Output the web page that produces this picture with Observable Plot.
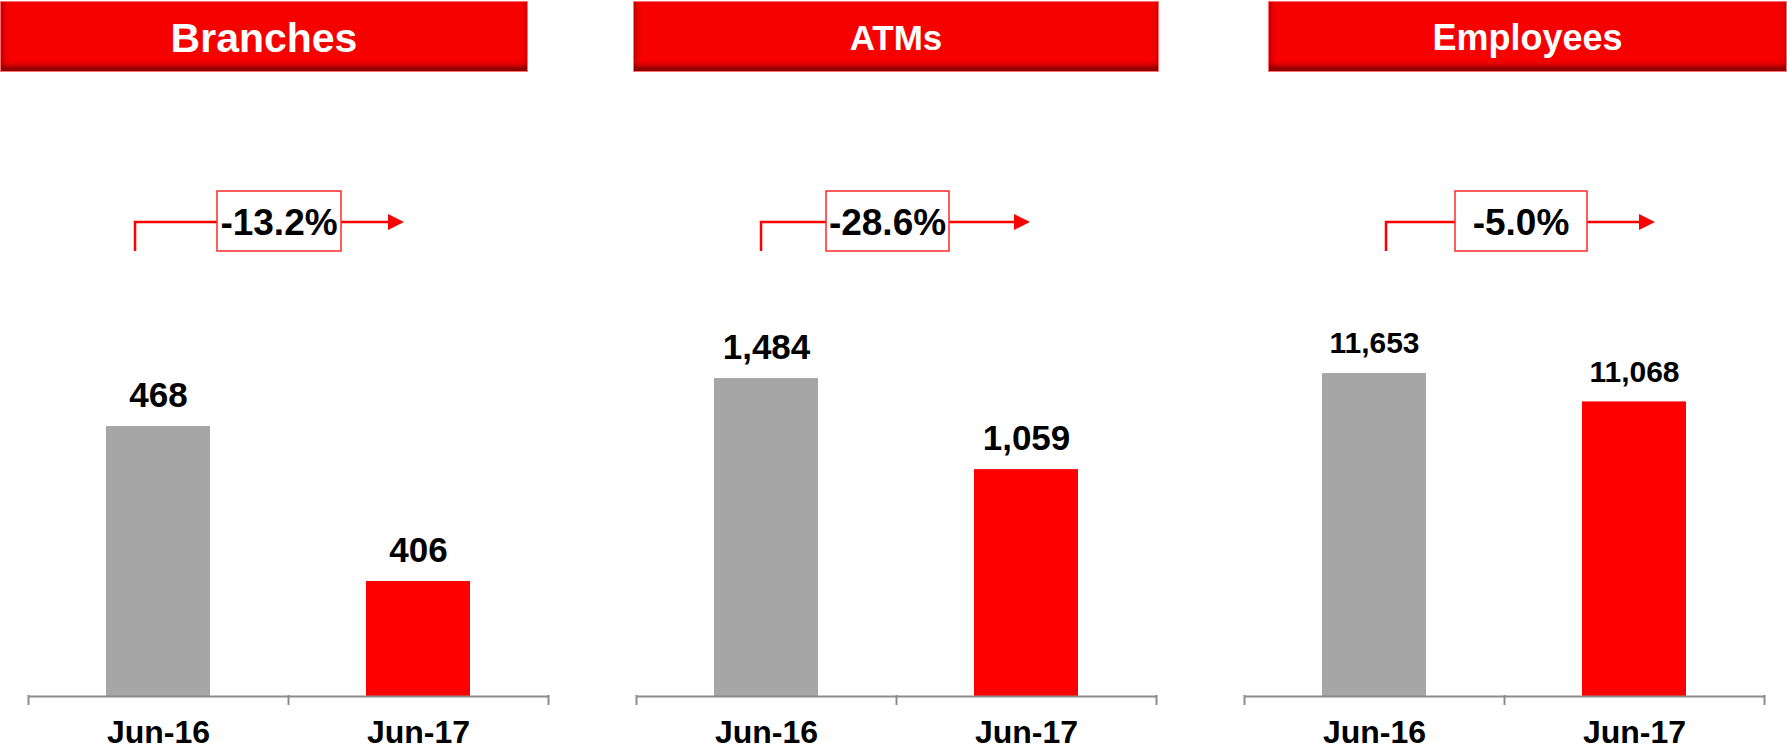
<!DOCTYPE html>
<html>
<head>
<meta charset="utf-8">
<script src="https://cdn.jsdelivr.net/npm/d3@7"></script>
<script src="https://cdn.jsdelivr.net/npm/@observablehq/plot@0.6"></script>
<style>
  html, body { margin: 0; padding: 0; background: #fff; overflow: hidden; }
  #root { position: relative; width: 1787px; height: 752px; overflow: hidden; font-family: "Liberation Sans", Arial, sans-serif; }
  .header {
    position: absolute; top: 1px; height: 71px; box-sizing: border-box;
    background: #f60000; border: 1px solid #ff7070;
    box-shadow: inset 0 -8px 5px -3px rgba(110,0,0,0.8), inset 6px 0 5px -3px rgba(140,0,0,0.45), inset -5px 0 5px -3px rgba(140,0,0,0.3);
    color: #fff; font-weight: bold; display: flex; align-items: center; justify-content: center;
    padding-top: 3px;
  }
  .panel { position: absolute; top: 0; width: 576px; height: 752px; }
  .panel svg { max-width: none !important; }
</style>
</head>
<body>
<div id="root"></div>
<script>
// ---- data ----
const categories = ["Jun-16", "Jun-17"];
const panelTitles = ["Branches", "ATMs", "Employees"];
const branches = [468, 406];
const atms = [1484, 1059];
const employees = [11653, 11068];
const changeLabels = ["-13.2%", "-28.6%", "-5.0%"];
const barColors = ["#a6a6a6", "#ff0000"];

// ---- layout / style ----
const seriesList = [branches, atms, employees];
const panels = [
  {left: 0,    yDomain: [360, 520],   labelSize: 35, titleSize: 41, header: [0, 528],
   ann: {v: -23, box: -9, boxW: 124, tip: -14}},
  {left: 608,  yDomain: [0, 1867],    labelSize: 35, titleSize: 35, header: [633, 1159],
   ann: {v: -5, box: -8.5, boxW: 123, tip: 4}},
  {left: 1216, yDomain: [5000, 13239], labelSize: 30, titleSize: 36, header: [1268, 1787],
   ann: {v: 12, box: 17, boxW: 132, tip: 21}}
];
const axisColor = "#8c8c8c";
const font = "'Liberation Sans', Arial, sans-serif";
const root = document.getElementById("root");

panels.forEach((cfg, i) => {
  // header
  const h = document.createElement("div");
  h.className = "header";
  h.style.left = cfg.header[0] + "px";
  h.style.width = (cfg.header[1] - cfg.header[0]) + "px";
  h.style.fontSize = cfg.titleSize + "px";
  h.textContent = panelTitles[i];
  root.appendChild(h);

  const values = seriesList[i];
  const data = categories.map((c, j) => ({period: c, value: values[j], color: barColors[j]}));
  const y0 = cfg.yDomain[0];

  const plot = Plot.plot({
    width: 576, height: 752,
    marginTop: 0, marginBottom: 47, marginLeft: 28, marginRight: 28,
    style: {fontFamily: font, background: "transparent", overflow: "visible", color: "#000", maxWidth: "none"},
    x: {domain: categories, paddingInner: 0.6, paddingOuter: 0.3, axis: null},
    y: {domain: cfg.yDomain, range: [696, 296], axis: null},
    color: {type: "identity"},
    marks: [
      Plot.barY(data, {x: "period", y1: () => y0, y2: "value", fill: "color"}),
      Plot.ruleY([y0], {stroke: axisColor, strokeWidth: 2}),
      Plot.ruleX(categories, {dx: -130, insetTop: 695, stroke: axisColor, strokeWidth: 2}),
      Plot.ruleX([categories[categories.length - 1]], {dx: 130, insetTop: 695, stroke: axisColor, strokeWidth: 2}),
      Plot.text(categories, {x: d => d, frameAnchor: "bottom", lineAnchor: "top", dy: 15,
        text: d => d, fontSize: 32, fontWeight: "bold", fill: "#000"}),
      Plot.text(data, {x: "period", y: "value", text: d => d3.format(",")(d.value),
        lineAnchor: "bottom", dy: -20, fontSize: cfg.labelSize, fontWeight: "bold", fill: "#000"})
    ]
  });

  // annotation (change arrow) positioned from the x scale
  const sx = plot.scale("x");
  const bw = sx.bandwidth || 104;
  const xpos = c => (sx.apply ? sx.apply(c) : d3.scaleBand(categories, [28, 548]).paddingInner(0.6).paddingOuter(0.3)(c)) + bw / 2;
  const c1 = xpos(categories[0]), c2 = xpos(categories[1]);
  const vx = c1 + cfg.ann.v;
  const tip = c2 + cfg.ann.tip;
  const mid = (c1 + c2) / 2 + cfg.ann.box;
  const g = d3.select(plot).append("g").attr("class", "change");
  g.append("path")
    .attr("d", `M${vx},251V222H${tip - 15}`)
    .attr("fill", "none").attr("stroke", "#ff0000").attr("stroke-width", 2.5);
  g.append("path")
    .attr("d", `M${tip - 16},214L${tip},222L${tip - 16},230Z`)
    .attr("fill", "#ff0000");
  g.append("rect")
    .attr("x", mid - cfg.ann.boxW / 2).attr("y", 191)
    .attr("width", cfg.ann.boxW).attr("height", 60)
    .attr("fill", "#fff").attr("stroke", "#ff2a2a").attr("stroke-width", 1.5);
  g.append("text")
    .attr("x", mid).attr("y", 235)
    .attr("text-anchor", "middle")
    .attr("font-size", 37).attr("font-weight", "bold").attr("fill", "#000")
    .attr("font-family", font)
    .text(changeLabels[i]);

  const wrap = document.createElement("div");
  wrap.className = "panel";
  wrap.style.left = cfg.left + "px";
  wrap.appendChild(plot);
  root.appendChild(wrap);
});
</script>
</body>
</html>
